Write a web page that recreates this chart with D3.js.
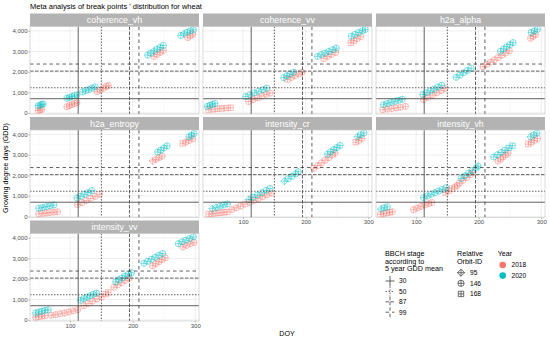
<!DOCTYPE html>
<html>
<head>
<meta charset="utf-8">
<script src="https://cdn.jsdelivr.net/npm/d3@7"></script>
<style>
body { margin: 0; background: #fff; }
text { font-family: "Liberation Sans", Arial, sans-serif; }
</style>
</head>
<body>
<div class="container"></div>
<script>
const panels = ["coherence_vh", "coherence_vv", "h2a_alpha", "h2a_entropy", "intensity_cr", "intensity_vh", "intensity_vv"];
const years = ["2018", "2020"];
const yearColors = ["#F8766D", "#00BFC4"];
const orbits = [95, 146, 168];
const bbchStages = ["30", "50", "87", "99"];
const bbchDoy = [113, 150, 195, 210];
const bbchGdd = [695, 1230, 2040, 2385];
const xTicks = [100, 200, 300];
const yTicks = [0, 1000, 2000, 3000, 4000];

// break points: [DOY, GDD, relative orbit]
const coherence_vh_2018 = [[49,120,146],[52,150,146],[55,180,146],
  [95,300,146],[99,360,146],[103,410,146],[107,460,146],[111,500,146],
  [143,1040,146],[148,1120,146],[153,1200,146],[158,1290,146],[161,1340,146],
  [234,2760,146],[239,2860,146],[244,2950,146],[249,3040,146],
  [288,3680,146],[292,3760,146],[296,3840,146]];
const coherence_vh_2020 = [[49,350,146],[52,380,95],[55,410,146],[57,440,146],
  [95,720,146],[99,760,146],[103,800,95],[107,840,146],[111,880,146],
  [120,1030,146],[125,1090,146],[130,1150,146],[135,1210,146],[140,1270,146],
  [224,2820,146],[229,2920,146],[234,3020,95],[239,3110,146],[244,3200,146],[249,3290,146],
  [277,3780,146],[282,3860,95],[287,3930,146],[292,4000,146],[297,4060,146]];

const coherence_vv_2018 = [[45,160,168],[52,180,168],[59,200,168],[66,220,168],[73,240,168],[80,260,168],
  [109,560,146],[116,650,146],[123,740,168],[130,830,146],[137,910,146],[143,970,146],
  [171,1640,168],[177,1730,146],[183,1820,146],[189,1900,146],[194,1980,146],
  [229,2650,146],[235,2750,146],[241,2850,146],[248,2950,146],
  [272,3420,168],[277,3520,168],[282,3620,146],[288,3720,146]];
const coherence_vv_2020 = [[43,320,146],[47,370,146],[51,420,146],[55,460,146],
  [104,800,146],[111,890,146],[118,980,146],[125,1060,146],[132,1140,146],[138,1210,146],
  [165,1720,146],[170,1810,146],[175,1900,146],[181,1990,146],
  [219,2760,146],[225,2840,146],[231,2920,146],[237,3000,146],[243,3080,146],[249,3160,146],
  [273,3740,146],[279,3830,146],[285,3920,146],[291,4010,146],[295,4070,146]];

const h2a_alpha_2018 = [[47,160,146],[54,190,146],[61,220,146],[68,250,146],[75,280,146],[83,320,146],
  [112,650,146],[119,760,146],[126,870,146],[133,980,146],[140,1090,146],[146,1190,146],
  [207,2260,146],[213,2370,146],[219,2480,146],[225,2590,146],[231,2700,146],[237,2810,146],[243,2920,146],[249,3030,146],
  [283,3640,146],[287,3730,146],[291,3820,146]];
const h2a_alpha_2020 = [[48,400,146],[54,460,146],[60,520,146],[66,570,146],[72,620,146],[78,670,146],
  [111,900,146],[117,990,146],[123,1080,146],[129,1170,146],[135,1260,146],[141,1350,146],
  [164,1740,146],[170,1850,146],[176,1960,146],[182,2070,146],[188,2180,146],
  [235,3010,146],[240,3120,146],[245,3230,146],[250,3330,146],[255,3430,146],
  [284,3920,146],[289,4000,146],[294,4080,146]];

const h2a_entropy_2018 = [[50,130,146],[56,150,146],[62,170,146],[68,190,146],[74,210,146],[80,230,146],
  [112,580,146],[119,680,146],[126,780,146],[133,880,146],[140,980,146],[147,1080,146],
  [232,2700,95],[237,2780,95],[242,2860,146],[247,2940,146],
  [280,3560,168],[285,3630,146],[290,3700,146],[296,3780,146]];
const h2a_entropy_2020 = [[50,400,146],[56,440,146],[62,480,146],[68,520,146],[74,560,146],
  [111,900,146],[117,990,146],[123,1080,146],[129,1170,146],[135,1260,146],
  [240,3140,146],[245,3240,146],[250,3340,146],[255,3440,146],
  [290,3880,146],[294,3960,146],[298,4040,146]];

const intensity_cr_2018 = [[45,120,168],[51,140,168],[57,160,168],[63,180,168],[69,200,168],[75,220,168],
  [82,330,146],[89,420,146],[96,510,146],[103,600,146],[110,690,146],[117,780,146],[124,870,146],[131,960,146],[138,1050,146],[145,1140,146],
  [213,2350,146],[219,2480,146],[225,2610,146],[231,2740,146],[237,2870,146],[243,3000,146],[247,3090,146],
  [280,3620,168],[285,3710,146],[290,3800,146]];
const intensity_cr_2020 = [[51,380,95],[57,440,95],[63,500,146],[69,560,146],[75,610,146],
  [109,830,95],[116,940,146],[123,1050,146],[130,1160,146],[137,1270,146],[143,1360,146],
  [166,1720,95],[172,1840,146],[178,1960,146],[184,2080,146],[188,2180,146],
  [235,3040,146],[240,3150,146],[245,3260,146],[250,3360,146],[255,3460,146],
  [283,3890,95],[288,3980,146],[293,4070,146]];

const intensity_vh_2018 = [[43,100,146],[48,140,146],[53,170,146],[58,200,146],[62,230,146],
  [96,330,146],[102,410,146],[108,490,146],[114,560,146],[120,620,146],[125,680,146],
  [147,1170,168],[152,1260,168],[157,1350,168],[162,1440,146],[166,1510,146],
  [169,1620,146],[175,1760,146],[181,1900,146],[187,2040,146],[191,2150,146],
  [231,2700,146],[235,2800,146],[239,2900,146],[243,3000,146],[247,3090,146],
  [279,3530,168],[284,3620,168],[289,3710,146],[294,3800,146]];
const intensity_vh_2020 = [[44,360,95],[49,420,146],[54,470,146],
  [112,920,146],[118,1000,146],[124,1080,146],[130,1160,146],[136,1240,146],[142,1320,146],[148,1400,146],
  [172,1850,146],[178,1980,146],[184,2110,146],[190,2240,146],[196,2370,146],[199,2450,146],
  [224,2900,146],[230,3010,146],[236,3120,146],[242,3230,146],[248,3340,168],[254,3450,168],
  [283,3880,95],[288,3970,146],[293,4060,146]];

const intensity_vv_2018 = [[45,130,146],[50,160,146],[55,190,146],[60,210,146],
  [70,230,146],[77,260,146],[84,300,146],[91,340,146],[98,390,146],[105,440,146],[112,500,146],
  [122,700,146],[129,810,146],[136,920,146],[143,1030,146],[150,1140,168],[157,1260,168],[161,1340,168],
  [170,1600,146],[176,1710,146],[182,1820,146],[188,1930,146],[194,2030,146],
  [232,2640,146],[237,2740,146],[242,2840,146],[247,2940,146],[252,3030,146],
  [280,3560,146],[286,3640,146],[292,3710,146],[298,3780,146]];
const intensity_vv_2020 = [[45,340,146],[50,390,146],[55,430,146],[60,470,146],[65,500,146],
  [117,960,146],[122,1040,146],[127,1110,146],[132,1180,146],[137,1250,146],[142,1310,146],
  [173,1860,146],[178,1960,146],[183,2050,146],[188,2140,146],[193,2230,146],[198,2300,146],
  [218,2760,146],[224,2860,146],[230,2960,146],[236,3060,146],[242,3150,146],[248,3240,146],
  [273,3720,146],[279,3810,146],[285,3890,146],[291,3970,146],[297,4050,146]];

const pointData = {
  coherence_vh: [coherence_vh_2018, coherence_vh_2020],
  coherence_vv: [coherence_vv_2018, coherence_vv_2020],
  h2a_alpha: [h2a_alpha_2018, h2a_alpha_2020],
  h2a_entropy: [h2a_entropy_2018, h2a_entropy_2020],
  intensity_cr: [intensity_cr_2018, intensity_cr_2020],
  intensity_vh: [intensity_vh_2018, intensity_vh_2020],
  intensity_vv: [intensity_vv_2018, intensity_vv_2020]
};

const w = 550;
const h = 338;
const colX = [30, 203, 376];
const stripTop = [13.5, 117, 220.5];
const panelW = 169;
const panelH = 87.5;
const stripH = 13;
const dashes = ["none", "1.5,1.5", "3.5,1.5", "3.5,3"];
const lineColor = "#3a3a3a";

const svg = d3.select(".container").append("svg")
  .attr("width", w)
  .attr("height", h);

const xScale = d3.scaleLinear().domain([36, 306]).range([0, panelW]);
const yScale = d3.scaleLinear().domain([-50, 4215]).range([panelH, 0]);

// ggplot-like open shapes with a plus inside
const shapePath = (orbit, r) => {
  if (orbit === 95) {
    const d = r * 1.15;
    return `M0,${-d}L${d},0L0,${d}L${-d},0Z M0,${-d}V${d} M${-d},0H${d}`;
  }
  if (orbit === 168) {
    const s = r * 0.88;
    return `M${-s},${-s}H${s}V${s}H${-s}Z M0,${-s}V${s} M${-s},0H${s}`;
  }
  return `M${r},0A${r},${r} 0 1,1 ${-r},0A${r},${r} 0 1,1 ${r},0Z M0,${-r}V${r} M${-r},0H${r}`;
};

svg.append("text")
  .attr("x", 30)
  .attr("y", 8.6)
  .attr("font-size", 7.5)
  .attr("fill", "#000")
  .text("Meta analysis of break points ' distribution for wheat");

panels.forEach((name, i) => {
  const col = i % 3;
  const row = Math.floor(i / 3);
  const px = colX[col];
  const sy = stripTop[row];
  const py = sy + stripH;

  // strip
  svg.append("rect")
    .attr("x", px).attr("y", sy)
    .attr("width", panelW).attr("height", stripH)
    .attr("fill", "#B3B3B3");
  svg.append("text")
    .attr("x", px + panelW / 2).attr("y", sy + stripH / 2 + 3.1)
    .attr("text-anchor", "middle")
    .attr("font-size", 8.8)
    .attr("fill", "#fff")
    .text(name);

  const g = svg.append("g").attr("transform", `translate(${px},${py})`);

  const clipId = "clip" + i;
  g.append("clipPath").attr("id", clipId)
    .append("rect").attr("width", panelW).attr("height", panelH);

  // grid
  const minorX = [50, 150, 250];
  const minorY = [500, 1500, 2500, 3500];
  g.selectAll(".gxm").data(minorX).enter().append("line")
    .attr("x1", d => xScale(d)).attr("x2", d => xScale(d))
    .attr("y1", 0).attr("y2", panelH)
    .attr("stroke", "#F0F0F0").attr("stroke-width", 0.4);
  g.selectAll(".gym").data(minorY).enter().append("line")
    .attr("y1", d => yScale(d)).attr("y2", d => yScale(d))
    .attr("x1", 0).attr("x2", panelW)
    .attr("stroke", "#F0F0F0").attr("stroke-width", 0.4);
  g.selectAll(".gx").data(xTicks).enter().append("line")
    .attr("x1", d => xScale(d)).attr("x2", d => xScale(d))
    .attr("y1", 0).attr("y2", panelH)
    .attr("stroke", "#E3E3E3").attr("stroke-width", 0.6);
  g.selectAll(".gy").data(yTicks).enter().append("line")
    .attr("y1", d => yScale(d)).attr("y2", d => yScale(d))
    .attr("x1", 0).attr("x2", panelW)
    .attr("stroke", "#E3E3E3").attr("stroke-width", 0.6);

  // points
  const pts = g.append("g").attr("clip-path", `url(#${clipId})`);
  pointData[name].forEach((series, yi) => {
    pts.selectAll(".p" + yi).data(series).enter().append("path")
      .attr("transform", d => `translate(${xScale(d[0])},${yScale(d[1])})`)
      .attr("d", d => shapePath(d[2], 3.1))
      .attr("fill", "none")
      .attr("stroke", yearColors[yi])
      .attr("stroke-opacity", 0.65)
      .attr("stroke-width", 0.7);
  });

  // BBCH reference lines
  const ref = g.append("g").attr("clip-path", `url(#${clipId})`);
  bbchDoy.forEach((v, k) => {
    ref.append("line")
      .attr("x1", xScale(v)).attr("x2", xScale(v))
      .attr("y1", 0).attr("y2", panelH)
      .attr("stroke", lineColor).attr("stroke-width", 0.8)
      .attr("stroke-dasharray", dashes[k]);
  });
  bbchGdd.forEach((v, k) => {
    ref.append("line")
      .attr("y1", yScale(v)).attr("y2", yScale(v))
      .attr("x1", 0).attr("x2", panelW)
      .attr("stroke", lineColor).attr("stroke-width", 0.8)
      .attr("stroke-dasharray", dashes[k]);
  });

  // panel border
  g.append("rect")
    .attr("width", panelW).attr("height", panelH)
    .attr("fill", "none")
    .attr("stroke", "#C4C4C4").attr("stroke-width", 0.6);

  // axes
  if (col === 0) {
    const yAxis = d3.axisLeft(yScale).tickValues(yTicks).tickSize(1.5).tickPadding(1);
    const ya = g.append("g").call(yAxis);
    ya.select(".domain").remove();
    ya.selectAll("line").attr("stroke", "#B3B3B3");
    ya.selectAll("text").attr("font-size", 6).attr("fill", "#4D4D4D")
      .attr("font-family", "Liberation Sans, Arial, sans-serif");
  }
  if (i >= 4) {
    const xAxis = d3.axisBottom(xScale).tickValues(xTicks).tickSize(1.5).tickPadding(0.8);
    const xa = g.append("g").attr("transform", `translate(0,${panelH})`).call(xAxis);
    xa.select(".domain").remove();
    xa.selectAll("line").attr("stroke", "#B3B3B3");
    xa.selectAll("text").attr("font-size", 6).attr("fill", "#4D4D4D")
      .attr("font-family", "Liberation Sans, Arial, sans-serif");
  }
});

// axis titles
svg.append("text")
  .attr("transform", "translate(7.5,168) rotate(-90)")
  .attr("text-anchor", "middle")
  .attr("font-size", 7.1)
  .text("Growing degree days (GDD)");
svg.append("text")
  .attr("x", 287).attr("y", 335.5)
  .attr("text-anchor", "middle")
  .attr("font-size", 7.1)
  .text("DOY");

// legends
const leg = svg.append("g");
["BBCH stage", "according to", "5 year GDD mean"].forEach((t, k) => {
  leg.append("text").attr("x", 385).attr("y", 255.8 + k * 7.8)
    .attr("font-size", 7.2).text(t);
});
bbchStages.forEach((s, k) => {
  const cy = 281 + k * 10.4;
  leg.append("line").attr("x1", 385.5).attr("x2", 394.5).attr("y1", cy).attr("y2", cy)
    .attr("stroke", lineColor).attr("stroke-width", 0.8).attr("stroke-dasharray", dashes[k]);
  leg.append("line").attr("x1", 390).attr("x2", 390).attr("y1", cy - 5).attr("y2", cy + 5)
    .attr("stroke", lineColor).attr("stroke-width", 0.8).attr("stroke-dasharray", dashes[k]);
  leg.append("text").attr("x", 399).attr("y", cy + 2.3)
    .attr("font-size", 6.6).attr("fill", "#000").text(s);
});

["Relative", "Orbit-ID"].forEach((t, k) => {
  leg.append("text").attr("x", 457).attr("y", 255.8 + k * 7.8)
    .attr("font-size", 7.2).text(t);
});
orbits.forEach((o, k) => {
  const cy = 272.7 + k * 10.6;
  leg.append("path").attr("transform", `translate(461,${cy})`)
    .attr("d", shapePath(o, 3.1))
    .attr("fill", "none").attr("stroke", "#333").attr("stroke-width", 0.7);
  leg.append("text").attr("x", 470).attr("y", cy + 2.3)
    .attr("font-size", 6.6).text(o);
});

leg.append("text").attr("x", 497.7).attr("y", 255.8).attr("font-size", 7.2).text("Year");
years.forEach((yr, k) => {
  const cy = 265 + k * 10.6;
  leg.append("circle").attr("cx", 502.7).attr("cy", cy).attr("r", 3.3)
    .attr("fill", yearColors[k]);
  leg.append("text").attr("x", 511.5).attr("y", cy + 2.3)
    .attr("font-size", 6.6).text(yr);
});
</script>
</body>
</html>
